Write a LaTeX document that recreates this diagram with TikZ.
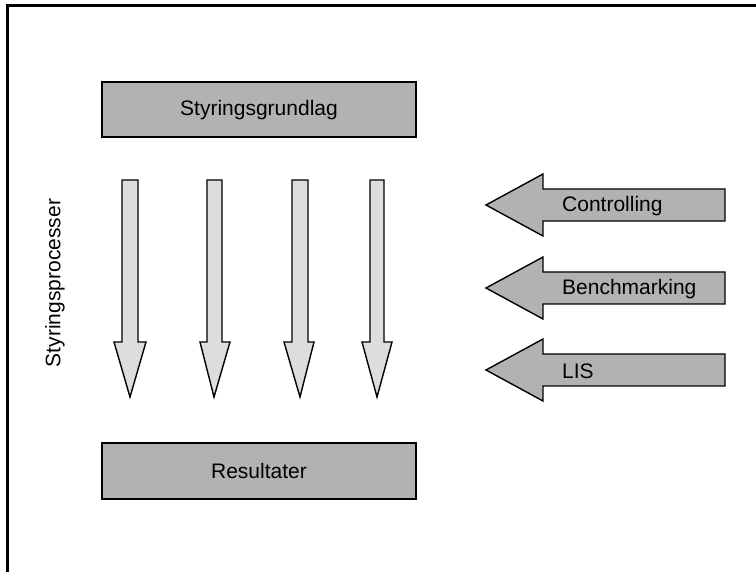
\documentclass[tikz,border=0pt]{standalone}
\usepackage{fontspec}
\setmainfont{Liberation Sans}
\begin{document}
\begin{tikzpicture}[x=1pt,y=-1pt,
  labeltext/.style={font=\fontsize{21}{25}\selectfont, inner sep=0pt},
  gbox/.style={draw=black, line width=1.5pt, fill=boxgray},
  downarrow/.style={draw=black, line width=1.4pt, fill=lightgray2, line join=miter},
  leftarrow/.style={draw=black, line width=1.4pt, fill=boxgray, line join=miter}]
\definecolor{boxgray}{HTML}{B2B2B2}
\definecolor{lightgray2}{HTML}{DDDDDD}
\useasboundingbox (0,0) rectangle (756,572);

% frame
\draw[line width=3pt] (756,5.5) -- (7.5,5.5) -- (7.5,572);

% top and bottom boxes
\draw[gbox] (102,82) rectangle (416,137);
\node[labeltext] (grund) at (259,110) {Styringsgrundlag};
\draw[gbox] (102,443) rectangle (416,499);
\node[labeltext] (res) at (259,471) {Resultater};

% side label
\node[labeltext, rotate=90] (proc) at (55,283) {Styringsprocesser};

% downward block arrows: shaft left, shaft right, head left, head right, tip x
\foreach \sl/\sr/\hl/\hr/\tx in {122/138/114/146/130, 207/222/200/230/214, 292/308/284/314/300, 370/384/362/392/377}{
  \draw[downarrow] (\sl,180) -- (\sr,180) -- (\sr,342) -- (\hr,342) -- (\tx,397) -- (\hl,342) -- (\sl,342) -- cycle;
}

% leftward block arrows: centre y
\foreach \cy/\lab/\nm in {205/Controlling/ctrl, 288/Benchmarking/bench, 370/LIS/lis}{
  \draw[leftarrow] (725,\cy-16) -- (543,\cy-16) -- (543,\cy-31) -- (486,\cy) -- (543,\cy+31) -- (543,\cy+16) -- (725,\cy+16) -- cycle;
  \node[labeltext, anchor=west] (\nm) at (562,\cy+1) {\lab};
}
\end{tikzpicture}
\end{document}
